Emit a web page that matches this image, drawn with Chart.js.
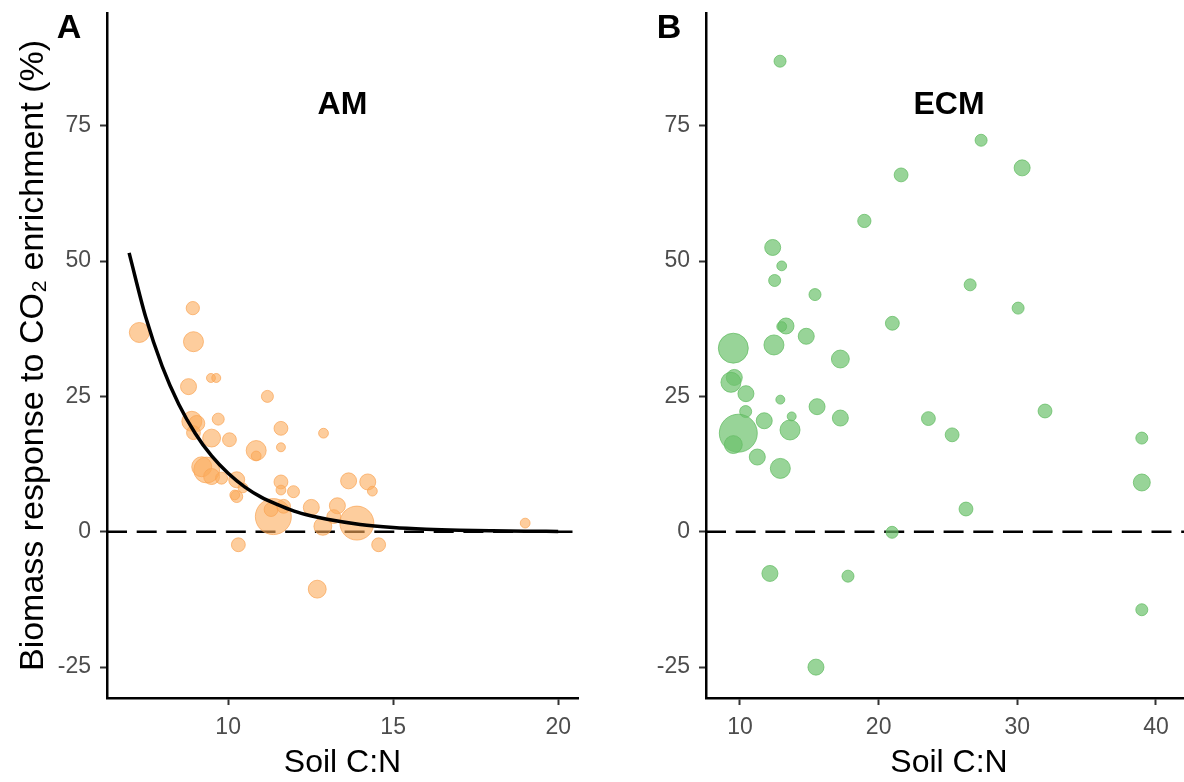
<!DOCTYPE html>
<html>
<head>
<meta charset="utf-8">
<script src="https://cdn.jsdelivr.net/npm/chart.js@4.4.0/dist/chart.umd.min.js"></script>
<style>
  html, body { margin: 0; padding: 0; background: #fff; overflow: hidden; }
  body { width: 1184px; height: 782px; position: relative; }
  .panel { position: absolute; top: 0; width: 600px; height: 782px; }
  #panelA { left: 0; }
  #panelB { left: 600px; }
</style>
</head>
<body>
<div class="panel" id="panelA"><canvas id="chartAM" width="600" height="782"></canvas></div>
<div class="panel" id="panelB"><canvas id="chartECM" width="600" height="782"></canvas></div>
<script>
// AM studies: soil C:N, biomass response (%), study weight
const amSoilCN = [7.31, 8.93, 8.95, 9.48, 9.64, 8.80, 11.19, 8.90, 9.05, 8.95, 9.70, 11.60, 12.89, 9.50, 10.04,
  10.85, 10.85, 11.60, 9.35, 9.20, 9.50, 9.80, 10.26, 10.26, 10.20, 10.45, 11.60, 11.60, 11.98, 11.37,
  11.30, 11.68, 12.52, 13.31, 12.87, 13.20, 13.90, 13.65, 14.23, 14.37, 19.00, 10.31, 14.56, 12.70];
const amResponse = [36.8, 41.3, 35.1, 28.4, 28.4, 26.8, 25.0, 20.4, 20.0, 18.3, 20.8, 19.1, 18.2, 17.3, 17.0,
  15.0, 14.0, 15.6, 11.4, 12.0, 10.2, 9.9, 9.6, 6.5, 6.8, 8.1, 9.2, 7.7, 7.4, 2.8,
  4.1, 4.7, 4.5, 4.8, 1.0, 2.8, 1.6, 9.4, 9.2, 7.5, 1.6, -2.4, -2.4, -10.6];
const amWeight = [25, 11, 25, 5, 5, 16, 9, 25, 16, 12, 9, 12, 6, 20, 12,
  25, 6, 5, 42, 25, 16, 9, 16, 9, 6, 6, 12, 6, 9, 81,
  12, 12, 16, 16, 20, 12, 72, 16, 16, 6, 6, 12, 12, 20];

// fitted decline of AM response with soil C:N
const amFitCN = [7, 7.5, 8, 8.5, 9, 9.5, 10, 10.5, 11, 11.5, 12, 12.5, 13, 14, 15, 16, 17, 18, 19, 20];
const amFitResponse = [51.5, 39.7, 30.6, 23.6, 18.2, 14.0, 10.8, 8.3, 6.4, 5.0, 3.8, 2.95, 2.3, 1.35, 0.8, 0.48, 0.28, 0.17, 0.1, 0.06];

// ECM studies
const ecmSoilCN = [12.89, 27.39, 30.35, 21.62, 18.97, 12.36, 13.01, 12.50, 26.60, 15.41, 30.06, 20.99, 13.32, 13.01, 14.78,
  12.45, 9.52, 17.24, 9.59, 9.35, 10.43, 12.91, 15.56, 10.41, 32.00, 13.73, 17.24, 23.59, 11.75, 13.61,
  9.88, 25.30, 38.98, 9.52, 11.25, 12.91, 38.98, 26.30, 20.97, 12.16, 17.79, 38.98, 15.48];
const ecmResponse = [86.9, 72.3, 67.2, 65.9, 57.4, 52.5, 49.1, 46.4, 45.6, 43.8, 41.3, 38.5, 38.0, 37.9, 36.1,
  34.5, 33.9, 31.9, 28.5, 27.6, 25.5, 24.4, 23.1, 22.2, 22.3, 21.3, 21.0, 20.9, 20.5, 18.8,
  18.2, 17.9, 17.3, 16.1, 13.8, 11.7, 9.1, 4.2, -0.1, -7.7, -8.2, -14.4, -25.0];
const ecmWeight = [9, 9, 16, 12, 11, 16, 6, 9, 9, 9, 9, 12, 16, 6, 16,
  25, 56, 20, 16, 25, 16, 5, 16, 9, 12, 5, 16, 12, 16, 25,
  90, 12, 9, 20, 16, 25, 18, 12, 9, 16, 9, 9, 16];

const yTicks = [-25, 0, 25, 50, 75];
const amXTicks = [10, 15, 20];
const ecmXTicks = [10, 20, 30, 40];

const FONT = "'Liberation Sans', Arial, Helvetica, sans-serif";

function toBubbles(xs, ys, ws) {
  return xs.map((x, i) => ({ x: x, y: ys[i], r: 2 * Math.sqrt(ws[i]) }));
}

// no extra room for tick labels: plot area is fixed by the layout padding
function noScalePadding(s) {
  s.paddingTop = 0;
  s.paddingBottom = 0;
  s.paddingLeft = 0;
  s.paddingRight = 0;
}

// dashed zero line under the points, panel letter and group name on top
const panelDecor = {
  id: 'panelDecor',
  beforeDatasetsDraw(chart) {
    const { ctx, chartArea, scales } = chart;
    const y0 = scales.y.getPixelForValue(0);
    ctx.save();
    ctx.strokeStyle = '#000';
    ctx.lineWidth = 2.5;
    ctx.setLineDash([20, 9.7]);
    ctx.beginPath();
    ctx.moveTo(chartArea.left, y0);
    ctx.lineTo(chartArea.right, y0);
    ctx.stroke();
    ctx.restore();
  },
  afterDraw(chart, args, opts) {
    const { ctx, chartArea } = chart;
    ctx.save();
    ctx.fillStyle = '#000';
    ctx.textAlign = 'center';
    ctx.textBaseline = 'alphabetic';
    ctx.font = 'bold 34px ' + FONT;
    ctx.fillText(opts.letter, 69, 38);
    ctx.font = 'bold 32px ' + FONT;
    ctx.fillText(opts.group, (chartArea.left + chartArea.right) / 2, 114);
    ctx.restore();
  }
};

function makePanel(canvasId, cfg) {
  const datasets = [{
    type: 'bubble',
    data: toBubbles(cfg.xs, cfg.ys, cfg.ws),
    backgroundColor: cfg.fill,
    borderColor: cfg.stroke,
    borderWidth: 1,
    order: 1
  }];
  if (cfg.fitX) {
    datasets.push({
      type: 'line',
      data: cfg.fitX.map((x, i) => ({ x: x, y: cfg.fitY[i] })),
      borderColor: '#000',
      borderWidth: 3.5,
      pointRadius: 0,
      fill: false,
      cubicInterpolationMode: 'monotone',
      order: 0
    });
  }
  return new Chart(document.getElementById(canvasId), {
    type: 'bubble',
    data: { datasets: datasets },
    plugins: [panelDecor],
    options: {
      responsive: false,
      animation: false,
      events: [],
      layout: { autoPadding: false, padding: { top: 13, right: cfg.padRight, left: 0, bottom: 0 } },
      plugins: {
        legend: { display: false },
        tooltip: { enabled: false },
        panelDecor: { letter: cfg.letter, group: cfg.group }
      },
      scales: {
        x: {
          type: 'linear',
          min: cfg.xMin,
          max: cfg.xMax,
          afterBuildTicks: s => { s.ticks = cfg.xTicks.map(v => ({ value: v })); },
          afterFit: s => { s.height = 84; noScalePadding(s); },
          grid: { drawOnChartArea: false, drawTicks: true, tickLength: 7, tickColor: '#333', tickWidth: 2 },
          border: { display: true, color: '#000', width: 2.5 },
          ticks: { color: '#4d4d4d', padding: 9, font: { family: FONT, size: 23 } },
          title: { display: true, text: 'Soil C:N', color: '#000', padding: { top: 0, bottom: 0 }, font: { family: FONT, size: 32 } }
        },
        y: {
          type: 'linear',
          min: -30.7,
          max: 95.8,
          afterBuildTicks: s => { s.ticks = yTicks.map(v => ({ value: v })); },
          afterFit: s => { s.width = cfg.yWidth; noScalePadding(s); },
          grid: { drawOnChartArea: false, drawTicks: true, tickLength: 7, tickColor: '#333', tickWidth: 2 },
          border: { display: true, color: '#000', width: 2.5 },
          ticks: { color: '#4d4d4d', padding: 9, font: { family: FONT, size: 23 } },
          title: {
            display: cfg.showYTitle,
            text: 'Biomass response to CO\u2082 enrichment (%)',
            color: '#000',
            padding: { top: 13, bottom: 0 },
            font: { family: FONT, size: 34 }
          }
        }
      }
    }
  });
}

makePanel('chartAM', {
  xs: amSoilCN, ys: amResponse, ws: amWeight,
  fitX: amFitCN, fitY: amFitResponse,
  fill: 'rgba(252, 172, 92, 0.6)', stroke: 'rgba(250, 164, 84, 0.7)',
  xMin: 6.33, xMax: 20.6, xTicks: amXTicks,
  yWidth: 107, padRight: 22, showYTitle: true,
  letter: 'A', group: 'AM'
});

makePanel('chartECM', {
  xs: ecmSoilCN, ys: ecmResponse, ws: ecmWeight,
  fill: 'rgba(108, 194, 108, 0.7)', stroke: 'rgba(100, 188, 100, 0.75)',
  xMin: 7.55, xMax: 42.6, xTicks: ecmXTicks,
  yWidth: 106, padRight: 8, showYTitle: false,
  letter: 'B', group: 'ECM'
});
</script>
</body>
</html>
